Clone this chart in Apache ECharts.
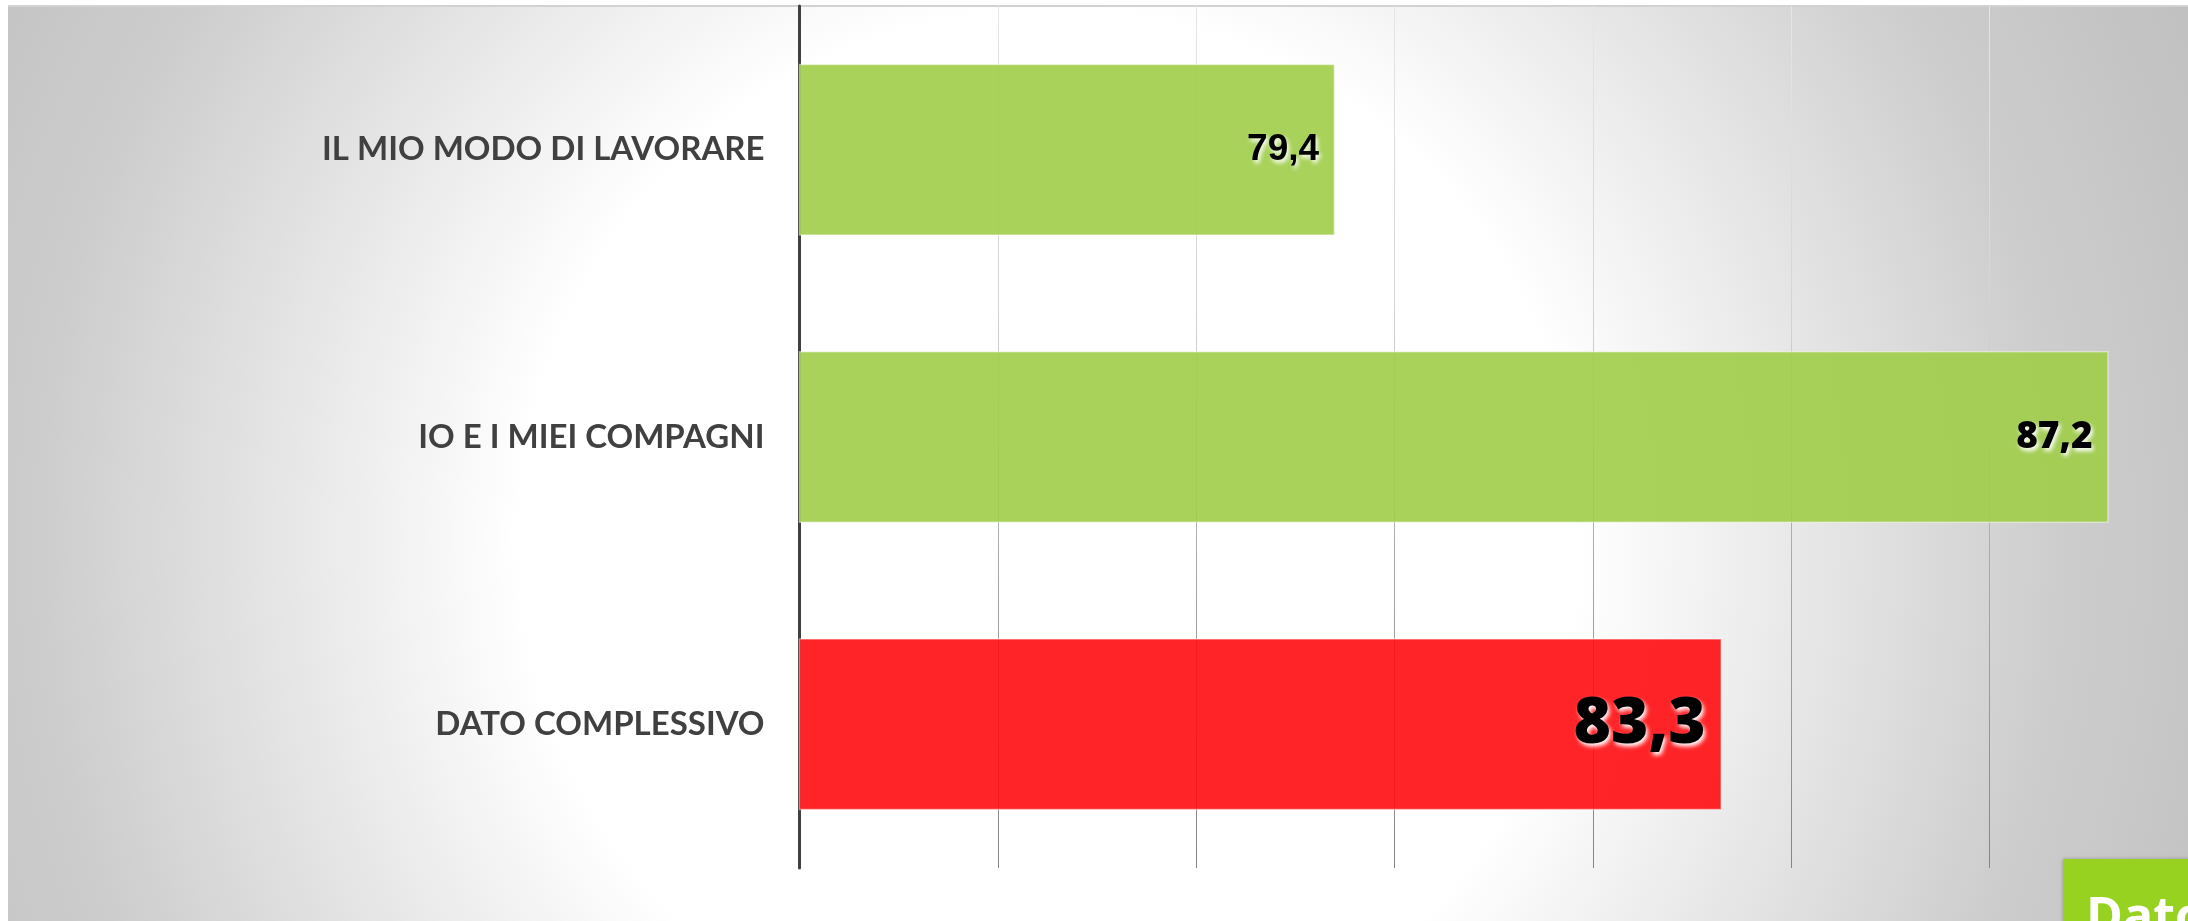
<!DOCTYPE html>
<html>
<head>
<meta charset="utf-8">
<style>
  html, body { margin: 0; padding: 0; background: #ffffff; }
  #chart { width: 2188px; height: 921px; }
</style>
<script src="https://cdn.jsdelivr.net/npm/echarts@6/dist/echarts.min.js"></script>
</head>
<body>
<div id="chart"></div>
<script>
// Categories, top to bottom
const categories = ['IL MIO MODO DI LAVORARE', 'IO E I MIEI COMPAGNI', 'DATO COMPLESSIVO'];
// Percent scores
const scores = [79.4, 87.2, 83.3];
// Bar colours: the two sections in green, the overall figure in red
const barColors = ['rgba(158,205,72,0.9)', 'rgba(158,205,72,0.9)', 'rgba(255,12,16,0.9)'];
// Label font sizes: the overall figure is emphasised
const labelSizes = [37, 37, 64];

const fmt = v => v.toFixed(1).replace('.', ',');

const chart = echarts.init(document.getElementById('chart'), null, { renderer: 'canvas' });

const seriesData = scores.map((v, i) => ({
  value: v,
  itemStyle: { color: barColors[i] },
  label: {
    fontSize: labelSizes[i],
    fontFamily: i === 0 ? '"Liberation Sans", Arial, sans-serif' : '"Open Sans", "Liberation Sans", sans-serif',
    fontWeight: i === 0 ? 'bold' : 800
  }
}));

chart.setOption({
  backgroundColor: '#ffffff',
  animation: false,
  graphic: [
    {
      type: 'rect',
      z: -20,
      silent: true,
      shape: { x: 8, y: 6, width: 2180, height: 915 },
      style: {
        fill: {
          type: 'radial', x: 1050, y: 540, r: 1260, global: true,
          colorStops: [
            { offset: 0, color: '#ffffff' },
            { offset: 0.42, color: '#ffffff' },
            { offset: 0.8, color: '#cdcdcd' },
            { offset: 1, color: '#c0c0c0' }
          ]
        }
      }
    },
    {
      type: 'line',
      z: -10,
      silent: true,
      shape: { x1: 8, y1: 6, x2: 2188, y2: 6 },
      style: { stroke: '#d2d2d2', lineWidth: 2 }
    },
    {
      type: 'group',
      z: 10,
      silent: true,
      children: [
        {
          type: 'rect',
          shape: { x: 2063, y: 859, width: 200, height: 100 },
          style: { fill: '#96d21f', shadowBlur: 4, shadowColor: 'rgba(0,0,0,0.25)' }
        },
        {
          type: 'text',
          x: 2086, y: 894,
          style: {
            text: 'Dato',
            fill: '#ffffff',
            font: 'bold 50px "Open Sans", sans-serif',
            verticalAlign: 'top'
          }
        }
      ]
    }
  ],
  grid: { left: 799.5, top: 6, width: 1389, bottom: 53, containLabel: false },
  xAxis: {
    type: 'value',
    min: 74,
    max: 88,
    interval: 2,
    axisLabel: { show: false },
    axisTick: { show: false },
    axisLine: { show: false },
    splitLine: {
      show: true,
      lineStyle: {
        width: 1,
        color: {
          type: 'linear', x: 0, y: 0, x2: 0, y2: 1,
          colorStops: [
            { offset: 0, color: '#e6e6e6' },
            { offset: 0.35, color: '#d4d4d4' },
            { offset: 0.65, color: '#a8a8a8' },
            { offset: 1, color: '#848484' }
          ]
        }
      }
    }
  },
  yAxis: {
    type: 'category',
    inverse: true,
    data: categories,
    axisTick: { show: false },
    axisLine: { show: true, lineStyle: { color: '#404040', width: 3 } },
    axisLabel: {
      margin: 35,
      color: '#404040',
      fontWeight: 'bold',
      fontSize: 33,
      fontFamily: 'Lato, "Open Sans", sans-serif'
    }
  },
  series: [{
    type: 'bar',
    data: seriesData,
    barWidth: 172,
    itemStyle: { borderColor: 'rgba(255,255,255,0.45)', borderWidth: 1.5 },
    label: {
      show: true,
      position: 'insideRight',
      distance: 16,
      color: '#000000',
      formatter: p => fmt(p.value),
      textShadowColor: '#ffffff',
      textShadowBlur: 4,
      textShadowOffsetX: 2,
      textShadowOffsetY: 3
    }
  }]
});
</script>
</body>
</html>
